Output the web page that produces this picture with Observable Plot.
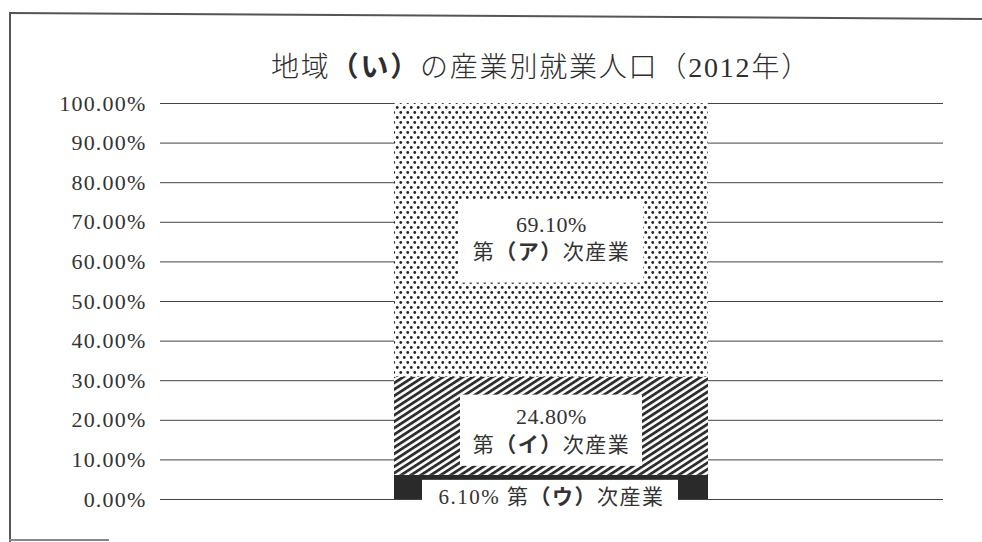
<!DOCTYPE html>
<html><head><meta charset="utf-8">
<script src="https://cdn.jsdelivr.net/npm/d3@7"></script>
<script src="https://cdn.jsdelivr.net/npm/@observablehq/plot@0.6"></script>
<style>
  html,body{margin:0;padding:0;background:#fff;}
  #wrap{position:relative;width:982px;height:542px;overflow:hidden;}
  #title{position:absolute;left:100px;right:0;top:47px;text-align:center;letter-spacing:1.8px;
    font-family:"Liberation Serif","Noto Sans CJK JP",serif;font-size:28px;line-height:36px;color:#2e2e2e;font-weight:300;}
  #title b{font-family:"Noto Sans CJK JP",sans-serif;font-weight:700;}
  #chart{position:absolute;left:0;top:90px;}
  .frame{position:absolute;background:#555;}
</style></head>
<body>
<div id="wrap">
  <div class="frame" style="left:9px;top:12px;width:1.5px;height:530px;"></div>
  <div class="frame" style="left:9px;top:12px;width:973px;height:1.5px;transform:rotate(0.35deg);transform-origin:0 0;"></div>
  <div class="frame" style="left:9px;top:539px;width:100px;height:1.5px;background:#888;"></div>
  <div id="title"></div>
  <div id="chart"></div>
</div>
<script>
// ---- data ----
const titleParts = ["地域", "（い）", "の産業別就業人口（2012年）"];
const categories = ["地域（い）"];
const sectors = ["ウ", "イ", "ア"];          // bottom to top
const shares = [6.1, 24.8, 69.1];             // percent
const yTicks = [0, 10, 20, 30, 40, 50, 60, 70, 80, 90, 100];

// title
const t = document.getElementById("title");
t.append(titleParts[0]);
const b = document.createElement("b"); b.textContent = titleParts[1]; t.append(b);
t.append(titleParts[2]);

// stacked segments
let acc = 0;
const segs = sectors.map((s, i) => {
  const lo = acc; acc += shares[i];
  return {cat: categories[0], sector: s, value: shares[i], lo, hi: acc,
    label: s === "ウ" ? `${shares[i].toFixed(2)}% 第（${s}）次産業`
                      : `${shares[i].toFixed(2)}%\n第（${s}）次産業`};
});
const seg = s => segs.filter(d => d.sector === s);
const mid = d => (d.lo + d.hi) / 2;

const font = "'Liberation Serif','Noto Sans CJK JP',serif";

const chart = Plot.plot({
  width: 982,
  height: 452,
  marginTop: 13,
  marginBottom: 43,
  marginLeft: 160,
  marginRight: 39,
  style: {fontFamily: font, fontSize: "22px", color: "#333", background: "transparent"},
  x: {type: "band", domain: categories, padding: 0.427, axis: null},
  y: {domain: [0, 100], ticks: yTicks, tickSize: 0, tickPadding: 14,
      tickFormat: d => d.toFixed(2) + "%", label: null},
  color: {domain: sectors, range: ["#2a2a2a", "url(#hatch)", "url(#dots)"]},
  marks: [
    Plot.ruleY(yTicks, {stroke: "#444", strokeWidth: 1}),
    Plot.barY(segs, {x: "cat", y1: "lo", y2: "hi", fill: "sector"}),
    Plot.barY(seg("ア"), {x: "cat", y1: "lo", y2: "hi", fill: "white",
      insetLeft: 64, insetRight: 65, insetTop: 96, insetBottom: 94}),
    Plot.barY(seg("イ"), {x: "cat", y1: "lo", y2: "hi", fill: "white",
      insetLeft: 66, insetRight: 66, insetTop: 18, insetBottom: 9}),
    Plot.barY(seg("ウ"), {x: "cat", y1: "lo", y2: "hi", fill: "white",
      insetLeft: 28, insetRight: 30, insetTop: 5, insetBottom: -16}),
    Plot.text(seg("ア"), {x: "cat", y: mid, text: "label", dy: -3, fontSize: 21, lineHeight: 1.25, fill: "#333"}),
    Plot.text(seg("イ"), {x: "cat", y: mid, text: "label", dy: 3, fontSize: 21, lineHeight: 1.33, fill: "#333"}),
    Plot.text(seg("ウ"), {x: "cat", y: mid, text: "label", dy: 10, fontSize: 21, fill: "#333"})
  ]
});

// patterns
const svgns = "http://www.w3.org/2000/svg";
const svg = d3.select(chart);
const defs = svg.insert("defs", ":first-child");
const dots = defs.append("pattern").attr("id", "dots").attr("patternUnits", "userSpaceOnUse")
  .attr("width", 7).attr("height", 10);
dots.append("rect").attr("width", 7).attr("height", 10).attr("fill", "white");
dots.append("circle").attr("cx", 1.75).attr("cy", 2.5).attr("r", 1.4).attr("fill", "#262626");
dots.append("circle").attr("cx", 5.25).attr("cy", 7.5).attr("r", 1.4).attr("fill", "#262626");
const hatch = defs.append("pattern").attr("id", "hatch").attr("patternUnits", "userSpaceOnUse")
  .attr("width", 10).attr("height", 5.4).attr("patternTransform", "rotate(-33)");
hatch.append("rect").attr("width", 10).attr("height", 5.4).attr("fill", "white");
hatch.append("rect").attr("width", 10).attr("height", 2.8).attr("fill", "#2e2e2e");

// y-axis tick labels (all text not inside the label text marks)
svg.selectAll("text").filter(function () {
  return !this.closest("g[aria-label='text']");
}).style("font-size", "22px").style("letter-spacing", "1.2px")
  .style("font-family", "'Liberation Serif',serif").style("fill", "#333");

// bold parenthesised letters in labels; style lines
svg.selectAll("g[aria-label='text'] text").each(function () {
  const tspans = this.querySelectorAll("tspan");
  const nodes = tspans.length ? [...tspans] : [this];
  for (const n of nodes) {
    if (/^[\d.]+%$/.test(n.textContent)) { n.setAttribute("font-size", 22); n.setAttribute("letter-spacing", 0.5); continue; }
    const m = n.textContent.match(/^(.*?)(（.）)(.*)$/);
    if (!m) continue;
    n.setAttribute("letter-spacing", 1.5);
    n.textContent = "";
    [m[1], m[2], m[3]].forEach((part, i) => {
      const ts = document.createElementNS(svgns, "tspan");
      ts.textContent = part;
      if (i === 1) { ts.setAttribute("font-weight", "bold"); ts.setAttribute("font-family", "Noto Sans CJK JP"); }
      n.appendChild(ts);
    });
  }
});

document.getElementById("chart").append(chart);
</script>
</body></html>
